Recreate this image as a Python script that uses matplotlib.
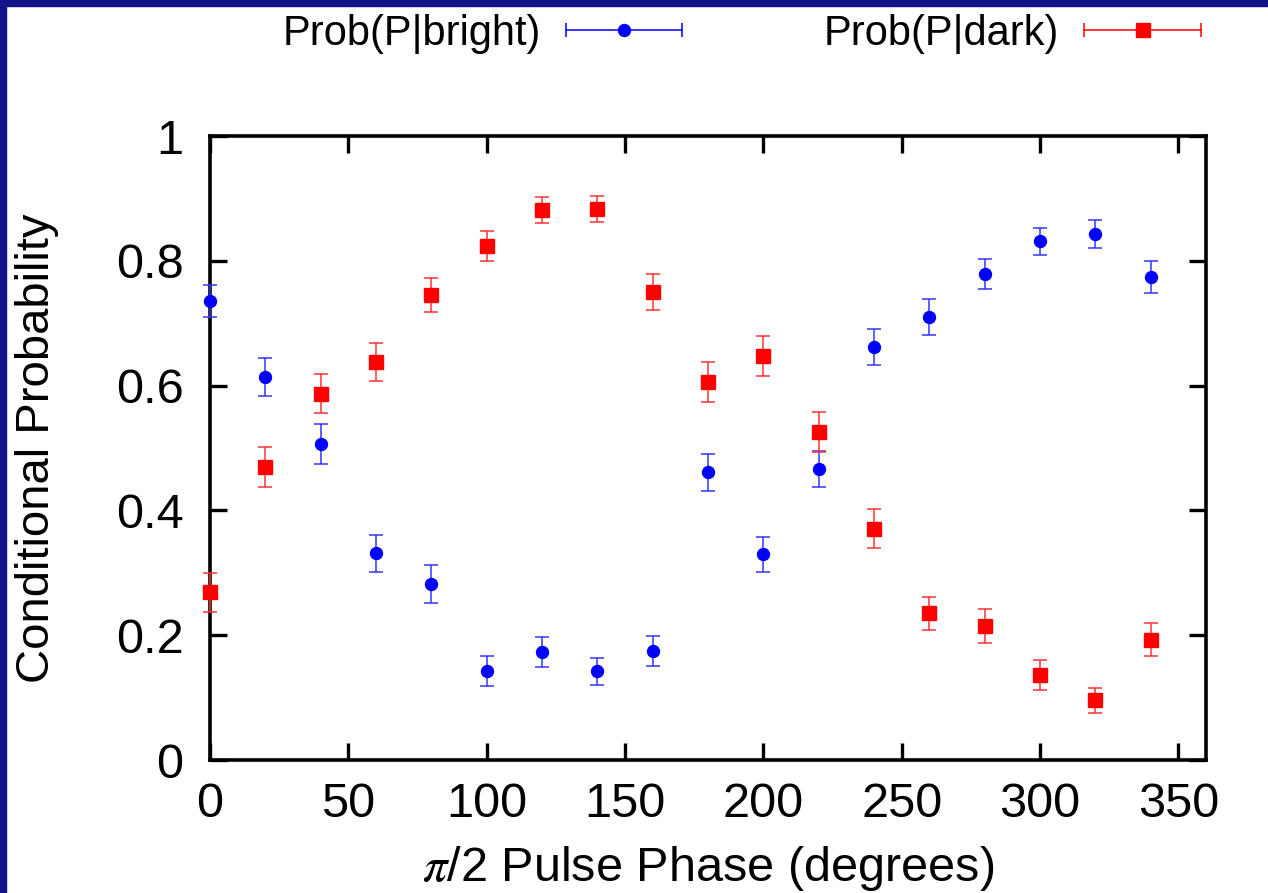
import matplotlib
matplotlib.use("Agg")
import matplotlib.pyplot as plt
import numpy as np
from matplotlib.lines import Line2D
from matplotlib.patches import Rectangle
from matplotlib.legend_handler import HandlerBase

plt.rcParams['font.family'] = ['Liberation Sans', 'DejaVu Sans']
plt.rcParams['mathtext.fontset'] = 'stix'

# phase of the pi/2 pulse (degrees)
phase = [0, 20, 40, 60, 80, 100, 120, 140, 160, 180, 200, 220, 240, 260, 280, 300, 320, 340]

p_bright = [0.736, 0.614, 0.507, 0.331, 0.282, 0.142, 0.173, 0.142, 0.174,
            0.461, 0.330, 0.466, 0.662, 0.710, 0.779, 0.831, 0.843, 0.774]
err_bright = [0.026, 0.031, 0.032, 0.030, 0.030, 0.024, 0.024, 0.021, 0.024,
              0.030, 0.028, 0.029, 0.029, 0.029, 0.024, 0.022, 0.023, 0.026]

p_dark = [0.269, 0.470, 0.587, 0.638, 0.745, 0.824, 0.881, 0.883, 0.750,
          0.606, 0.648, 0.525, 0.371, 0.235, 0.215, 0.136, 0.096, 0.193]
err_dark = [0.031, 0.032, 0.031, 0.031, 0.027, 0.024, 0.021, 0.021, 0.029,
            0.032, 0.032, 0.032, 0.032, 0.027, 0.027, 0.024, 0.020, 0.026]

xticks = [0, 50, 100, 150, 200, 250, 300, 350]
yticks = [0, 0.2, 0.4, 0.6, 0.8, 1.0]
yticklabels = ["0", "0.2", "0.4", "0.6", "0.8", "1"]


class GnuplotKey(HandlerBase):
    # horizontal bar with end caps and the point marker in the middle
    def create_artists(self, legend, orig_handle, xdescent, ydescent,
                       width, height, fontsize, trans):
        y = height / 2 - ydescent
        x0, x1 = -xdescent, width - xdescent
        c = orig_handle.get_color()
        bar = Line2D([x0, x1], [y, y], color=c, lw=1.1)
        caps = Line2D([x0, x1], [y, y], ls='none', marker='|', ms=10, mew=1.1, color=c)
        mk = Line2D([(x0 + x1) / 2], [y], ls='none', marker=orig_handle.get_marker(),
                    ms=orig_handle.get_markersize(), color=c, mec=c)
        for a in (bar, caps, mk):
            a.set_transform(trans)
        return [bar, caps, mk]


fig = plt.figure(figsize=(12.68, 8.93), dpi=100)
fig.patch.set_facecolor('white')
ax = fig.add_axes([0.1656, 0.1489, 0.7855, 0.6988])

ax.errorbar(phase, p_bright, yerr=err_bright, fmt='o', ms=8.6, color='#0000ff',
            ecolor='#3333ff', elinewidth=1.1, capsize=4.7, capthick=1.1,
            clip_on=False, zorder=3)
ax.errorbar(phase, p_dark, yerr=err_dark, fmt='s', ms=10, color='#ff0000',
            ecolor='#ff3333', elinewidth=1.1, capsize=4.7, capthick=1.1,
            clip_on=False, zorder=3)

ax.set_xlim(0, 360)
ax.set_ylim(0, 1)
ax.set_xticks(xticks)
ax.set_yticks(yticks)
ax.set_yticklabels(yticklabels)
ax.tick_params(direction='in', length=12, width=2.4, top=True, right=True,
               labelsize=35)
ax.tick_params(axis='x', pad=16)
ax.tick_params(axis='y', pad=19)
for sp in ax.spines.values():
    sp.set_linewidth(2.6)

ax.set_xlabel(r'$\pi$/2 Pulse Phase (degrees)', fontsize=35, labelpad=12)
ax.set_ylabel('Conditional Probability', fontsize=34, labelpad=41)

h1 = Line2D([], [], color='#0000ff', marker='o', ms=8.6)
h2 = Line2D([], [], color='#ff0000', marker='s', ms=10)
fig.legend([h1, h2], ['Prob(P|bright)', 'Prob(P|dark)'], ncol=2, markerfirst=False,
           frameon=False, loc='center', bbox_to_anchor=(0.585, 0.962),
           fontsize=30, handlelength=2.8, handletextpad=0.6, columnspacing=3.4,
           borderpad=0, handler_map={Line2D: GnuplotKey()})

# dark blue slide border on the left and top
fig.add_artist(Rectangle((0, 0), 0.0047, 1, transform=fig.transFigure,
                         color='#12128a', zorder=0))
fig.add_artist(Rectangle((0, 0.9933), 1, 0.0067, transform=fig.transFigure,
                         color='#12128a', zorder=0))

fig.savefig('out.png', dpi=100)
